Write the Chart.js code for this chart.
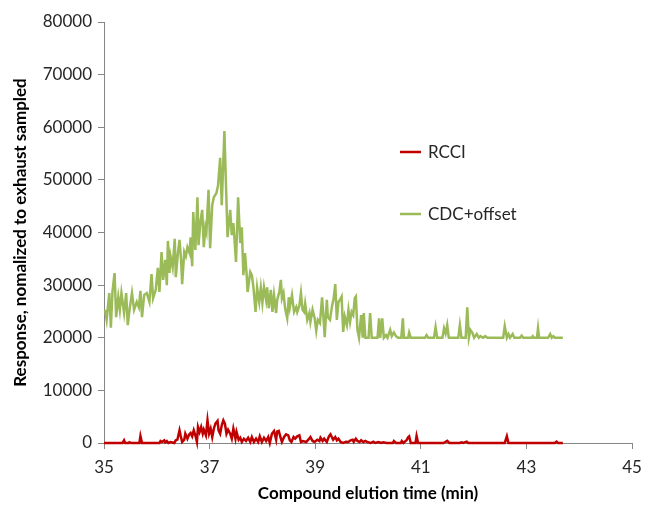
<!DOCTYPE html>
<html lang="en">
<head>
<meta charset="UTF-8">
<title>Compound elution</title>
<style>
body { margin: 0; background: #fff; }
#wrap { width: 645px; height: 505px; }
</style>
</head>
<body>
<div id="wrap"><canvas id="chart" width="645" height="505"></canvas></div>

<script src="https://cdn.jsdelivr.net/npm/chart.js"></script>
<script>
// elution time (min) and response for each trace
const greenTime = [
  35.02,35.05,35.10,35.13,35.16,35.20,35.23,35.27,35.30,35.33,
  35.38,35.42,35.45,35.49,35.53,35.57,35.62,35.66,35.69,35.72,
  35.76,35.81,35.86,35.90,35.93,35.98,36.02,36.05,36.09,36.12,
  36.16,36.19,36.21,36.24,36.26,36.30,36.34,36.36,36.40,36.43,
  36.46,36.48,36.52,36.55,36.58,36.62,36.64,36.67,36.69,36.73,
  36.77,36.79,36.83,36.86,36.89,36.92,36.94,36.98,37.01,37.05,
  37.08,37.13,37.16,37.20,37.23,37.28,37.34,37.39,37.42,
  37.45,37.50,37.54,37.58,37.61,37.64,37.67,37.70,37.72,37.77,
  37.80,37.83,37.87,37.90,37.94,37.97,38.00,38.03,38.07,
  38.09,38.12,38.16,38.19,38.22,38.26,38.28,38.32,38.35,38.37,
  38.40,38.43,38.47,38.50,38.52,38.56,38.60,38.64,38.66,38.70,
  38.73,38.76,38.79,38.81,38.85,38.89,38.91,38.95,38.99,39.02,
  39.05,39.09,39.13,39.15,39.18,39.22,39.24,39.28,39.32,39.35,
  39.38,39.41,39.44,
  39.47,39.50,39.53,39.56,39.60,39.63,39.66,39.69,39.72,39.75,
  39.77,39.80,39.83,39.87,39.90,39.92,39.95,40.01,40.04,40.07,
  40.18,40.21,40.23,40.27,40.30,40.34,40.37,40.42,40.45,40.49,
  40.53,40.57,40.63,40.66,40.68,40.76,40.78,40.81,41.08,41.11,
  41.14,41.25,41.28,41.31,41.41,41.44,41.47,41.50,41.53,41.71,
  41.74,41.77,41.85,41.88,41.91,41.94,41.98,42.01,42.06,42.10,
  42.13,42.18,42.22,42.26,42.56,42.59,42.63,42.66,42.69,42.74,
  42.77,42.88,42.91,42.94,43.10,43.12,43.14,43.20,43.22,43.24,
  43.41,43.45,43.48,43.51,43.54,43.69
];
const greenResp = [
  25300,23400,28500,21900,28700,32300,23900,27700,25300,28500,
  24700,28500,22400,25800,28500,25300,26800,25800,28900,23900,
  28100,28500,26800,32100,27500,29100,33300,28700,36300,31000,
  34800,30000,38400,32300,35500,33400,38800,31500,36100,38600,
  34800,30200,36300,35500,37200,36100,39100,33600,43900,36700,
  46700,37600,42400,44300,37200,41000,40100,48100,37000,45200,
  46700,47500,49000,54200,45200,59300,39100,44300,39500,
  41800,34400,46700,38000,41000,31900,36100,32300,28700,32500,
  31900,29600,24900,29500,26800,29500,26600,29600,27200,
  29600,25600,29100,24900,28100,24700,27200,28700,31000,27500,
  28500,25600,23700,27700,25800,28100,24900,25800,24900,26100,
  28500,25300,24900,26500,23400,24700,23000,25300,23700,21300,
  23400,22800,27700,24900,20100,27200,23900,23400,26100,27500,
  30200,23400,26800,
  27200,27800,21100,24000,22400,25300,23000,24900,24300,27500,
  27800,21500,20000,24300,20000,24700,20000,20000,24700,20000,
  20000,23700,20000,23700,20000,20500,20000,21500,20300,21000,
  20300,20000,20000,23700,20000,20000,21000,20000,20000,20500,
  20000,20000,22000,20000,20000,21800,20800,22400,20000,20000,
  22400,20000,20000,25800,20000,21500,20900,20000,20700,20000,
  20300,20000,20300,20000,20000,22200,20000,20700,20000,20700,
  20000,20000,20400,20000,20000,20300,20000,20000,21800,20000,
  20000,20700,20000,20300,20000,20000
];

const redTime = [
  35.00,35.35,35.38,35.40,35.47,35.48,35.51,35.67,35.69,35.72,
  36.05,36.07,36.10,36.14,36.16,36.19,36.22,36.26,36.33,36.36,
  36.39,36.43,36.45,36.48,36.52,36.54,36.58,36.61,36.64,36.67,
  36.70,36.73,36.76,36.78,36.81,36.84,36.87,36.89,36.93,36.96,
  36.99,37.02,37.05,37.08,37.11,37.15,37.17,37.20,37.23,37.26,
  37.29,37.32,37.35,37.39,37.42,37.45,37.49,37.51,37.55,37.58,
  37.61,37.65,37.69,37.73,37.77,37.80,37.84,37.88,37.92,37.95,
  37.99,38.03,38.07,38.11,38.14,38.18,38.22,38.26,38.28,38.31,
  38.35,38.37,38.41,38.45,38.49,38.52,38.55,38.59,38.62,38.66,
  38.70,38.73,38.77,38.83,38.87,38.91,38.95,38.99,39.04,39.08,
  39.10,39.14,39.17,39.22,39.26,39.29,39.32,39.34,39.38,39.41,
  39.44,39.48,39.53,39.58,39.63,39.67,39.71,39.73,39.77,39.80,
  39.84,39.87,39.91,39.95,40.00,40.05,40.10,40.14,40.20,40.25,
  40.29,40.35,40.47,40.49,40.53,40.62,40.64,40.67,40.73,40.76,
  40.78,40.81,40.90,40.92,40.95,41.43,41.50,41.54,41.74,41.77,
  41.80,41.87,41.90,42.59,42.63,42.66,43.54,43.57,43.60,43.69
];
const redResp = [
  0,0,500,0,0,130,0,0,1330,0,
  0,380,190,510,130,380,0,190,0,510,
  630,2410,1460,190,630,1770,820,1580,1900,1270,
  2410,1460,190,3040,2090,3040,1770,2530,1460,4300,
  1770,2720,1140,2720,3670,4180,2410,1770,3360,4300,
  3670,1770,2530,1770,820,2720,820,2090,630,1010,
  190,820,380,1010,190,1140,190,820,190,1270,
  190,1010,380,1140,0,1770,2280,630,2200,2300,
  820,190,1140,1650,1460,510,190,1140,820,1270,
  1460,190,380,190,630,1140,380,190,630,380,
  1010,380,820,190,1270,1650,1010,630,1140,510,
  820,190,0,250,190,510,630,190,820,380,
  190,510,190,380,130,0,250,0,190,0,
  130,0,0,380,0,0,380,0,510,1080,
  1270,0,0,1330,0,0,400,0,0,130,
  0,250,0,0,1270,0,0,250,0,0
];

const xTicks = [35, 37, 39, 41, 43, 45];
const yTicks = [0, 10000, 20000, 30000, 40000, 50000, 60000, 70000, 80000];

const seriesNames = ['RCCI', 'CDC+offset'];
const seriesColors = ['#C00000', '#9BBB59'];

const toPoints = (xs, ys) => xs.map((x, i) => ({ x: x, y: ys[i] }));

// legend sits inside the plot, drawn by hand like the Excel one
const insideLegend = {
    id: 'insideLegend',
    afterDraw(chart) {
        const ctx = chart.ctx;
        const rows = [152, 214];
        ctx.save();
        ctx.font = '17px Lato';
        ctx.textBaseline = 'middle';
        ctx.fillStyle = '#262626';
        seriesNames.forEach((name, i) => {
            ctx.strokeStyle = seriesColors[i];
            ctx.lineWidth = 2.5;
            ctx.beginPath();
            ctx.moveTo(400, rows[i]);
            ctx.lineTo(421, rows[i]);
            ctx.stroke();
            ctx.fillText(name, 428, rows[i] + 1);
        });
        ctx.restore();
    }
};

const axisGray = '#868686';
const tickFont = { family: 'Lato', size: 17 };

new Chart(document.getElementById('chart'), {
    type: 'line',
    data: {
        datasets: [
            {
                label: seriesNames[0],
                data: toPoints(redTime, redResp),
                borderColor: seriesColors[0],
                borderWidth: 2.5,
                pointRadius: 0,
                tension: 0,
                clip: false
            },
            {
                label: seriesNames[1],
                data: toPoints(greenTime, greenResp),
                borderColor: seriesColors[1],
                borderWidth: 2.5,
                pointRadius: 0,
                tension: 0,
                clip: false
            }
        ]
    },
    options: {
        responsive: false,
        animation: false,
        layout: { padding: { top: 22, right: 13, left: 0, bottom: 0 } },
        plugins: {
            legend: { display: false },
            tooltip: { enabled: false }
        },
        scales: {
            x: {
                type: 'linear',
                min: 35,
                max: 45,
                afterBuildTicks: (s) => { s.ticks = xTicks.map(v => ({ value: v })); },
                afterFit: (s) => { s.height = 62; s.paddingLeft = 0; s.paddingRight = 0; },
                border: { display: true, color: axisGray, width: 1 },
                grid: { drawOnChartArea: false, drawTicks: true, tickLength: 6, color: axisGray },
                ticks: { color: '#262626', font: tickFont, padding: 8, maxRotation: 0 },
                title: {
                    display: true,
                    text: 'Compound elution time (min)',
                    color: '#000',
                    font: { family: 'Lato', size: 17, weight: 'bold' },
                    padding: { top: 0, bottom: 1 }
                }
            },
            y: {
                min: 0,
                max: 80000,
                afterBuildTicks: (s) => { s.ticks = yTicks.map(v => ({ value: v })); },
                afterFit: (s) => { s.width = 104; s.paddingTop = 0; s.paddingBottom = 0; },
                border: { display: true, color: axisGray, width: 1 },
                grid: { drawOnChartArea: false, drawTicks: true, tickLength: 6, color: axisGray },
                ticks: { color: '#262626', font: tickFont, padding: 6, callback: (v) => String(v) },
                title: {
                    display: true,
                    text: 'Response, nomalized to exhaust sampled',
                    color: '#000',
                    font: { family: 'Lato', size: 17, weight: 'bold' },
                    padding: { top: 10, bottom: 0 }
                }
            }
        }
    },
    plugins: [insideLegend]
});
</script>
</body>
</html>
